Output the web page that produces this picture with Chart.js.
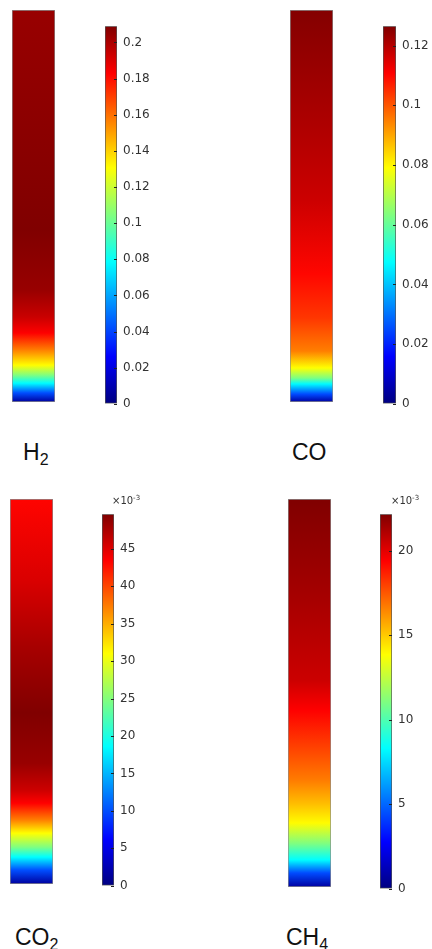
<!DOCTYPE html>
<html>
<head>
<meta charset="utf-8">
<script src="https://cdn.jsdelivr.net/npm/chart.js@4.4.0/dist/chart.umd.min.js"></script>
<style>
body { margin: 0; background: #fff; width: 432px; height: 949px; position: relative; overflow: hidden; }
canvas, .lbl, .exp { position: absolute; }
.lbl { font-family: "Liberation Sans", Arial, sans-serif; font-size: 23px; line-height: 23px; color: #111; white-space: nowrap; }
.lbl span { font-size: 16px; position: relative; top: 5px; }
.exp { font-family: "DejaVu Sans", sans-serif; font-size: 10px; line-height: 10px; color: #333; white-space: nowrap; }
.exp span { font-size: 7px; position: relative; top: -4px; }
</style>
</head>
<body>
<canvas id="h2Col" width="43" height="392" style="left:12px;top:10px"></canvas>
<canvas id="h2Bar" width="57" height="404" style="left:105px;top:13px"></canvas>
<canvas id="coCol" width="43" height="392" style="left:290px;top:10px"></canvas>
<canvas id="coBar" width="58" height="404" style="left:383px;top:13px"></canvas>
<canvas id="co2Col" width="43" height="385" style="left:10px;top:499px"></canvas>
<canvas id="co2Bar" width="57" height="398" style="left:102px;top:501px"></canvas>
<canvas id="ch4Col" width="43" height="388" style="left:288px;top:499px"></canvas>
<canvas id="ch4Bar" width="57" height="401" style="left:380px;top:501px"></canvas>

<div class="lbl" style="left:23px;top:441px">H<span>2</span></div>
<div class="lbl" style="left:292px;top:441px">CO</div>
<div class="lbl" style="left:15px;top:926px">CO<span>2</span></div>
<div class="lbl" style="left:286px;top:926px">CH<span>4</span></div>
<div class="exp" style="left:112px;top:496px">×10<span>-3</span></div>
<div class="exp" style="left:391px;top:496px">×10<span>-3</span></div>

<script>
// relative height along the column, 0 = bottom, 1 = top
const h2Height = [0, 0.023, 0.048, 0.069, 0.094, 0.133, 0.176, 0.217, 0.286, 0.44, 0.64, 1];
const h2Frac   = [0.006, 0.042, 0.078, 0.105, 0.131, 0.157, 0.183, 0.194, 0.204, 0.209, 0.207, 0.204];
const h2Max = 0.209;
const h2Ticks = [0, 0.02, 0.04, 0.06, 0.08, 0.1, 0.12, 0.14, 0.16, 0.18, 0.2];

const coHeight = [0, 0.02, 0.046, 0.061, 0.087, 0.13, 0.215, 0.327, 0.514, 0.72, 1];
const coFrac   = [0.004, 0.025, 0.047, 0.063, 0.079, 0.095, 0.104, 0.110, 0.117, 0.121, 0.126];
const coMax = 0.1265;
const coTicks = [0, 0.02, 0.04, 0.06, 0.08, 0.1, 0.12];

// CO2 and CH4 in units of 1e-3
const co2Height = [0, 0.036, 0.07, 0.096, 0.132, 0.166, 0.21, 0.244, 0.314, 0.444, 0.616, 0.79, 1];
const co2Frac   = [1.5, 10, 18.6, 24.8, 31, 37.2, 43.4, 45.9, 48.4, 49.6, 47.7, 45.2, 43.2];
const co2Max = 49.6;
const co2Ticks = [0, 5, 10, 15, 20, 25, 30, 35, 40, 45];

const ch4Height = [0, 0.036, 0.07, 0.113, 0.165, 0.216, 0.276, 0.361, 0.456, 0.534, 0.74, 1];
const ch4Frac   = [0.7, 4.4, 8.3, 11.1, 13.9, 15.3, 16.7, 18.0, 19.4, 20.5, 21.3, 22.2];
const ch4Max = 22.15;
const ch4Ticks = [0, 5, 10, 15, 20];

// jet colormap
function jet(t) {
  t = Math.max(0, Math.min(1, t));
  const c = x => Math.round(255 * Math.max(0, Math.min(1, 1.5 - Math.abs(4 * t - x))));
  return 'rgb(' + c(3) + ',' + c(2) + ',' + c(1) + ')';
}
const jetStops = [0, 0.125, 0.375, 0.625, 0.875, 1];

const baseOpts = {
  responsive: false,
  animation: false,
  events: [],
  plugins: { legend: { display: false }, tooltip: { enabled: false } }
};

function columnChart(id, heights, values, vmax) {
  new Chart(document.getElementById(id), {
    type: 'bar',
    data: {
      labels: [''],
      datasets: [{
        data: [[heights[0], heights[heights.length - 1]]],
        backgroundColor: c => {
          const ch = c.chart;
          if (!ch.chartArea) return '#fff';
          const y = ch.scales.y, top = ch.chartArea.top, bot = ch.chartArea.bottom;
          const g = ch.ctx.createLinearGradient(0, top, 0, bot);
          heights.forEach((hh, i) => {
            g.addColorStop((y.getPixelForValue(hh) - top) / (bot - top), jet(values[i] / vmax));
          });
          return g;
        },
        borderColor: '#8c8c8c',
        borderWidth: 1,
        borderSkipped: false,
        barPercentage: 1,
        categoryPercentage: 1
      }]
    },
    options: Object.assign({}, baseOpts, {
      layout: { padding: 0 },
      scales: { x: { display: false }, y: { display: false, min: 0, max: 1 } }
    })
  });
}

const tickMarks = {
  id: 'tickMarks',
  afterDatasetsDraw(chart) {
    const y = chart.scales.y, r = chart.chartArea.right, ctx = chart.ctx;
    ctx.save();
    ctx.strokeStyle = '#222';
    ctx.lineWidth = 1;
    y.ticks.forEach(t => {
      const py = Math.round(y.getPixelForValue(t.value)) + 0.5;
      ctx.beginPath();
      ctx.moveTo(r - 3, py);
      ctx.lineTo(r, py);
      ctx.stroke();
    });
    ctx.restore();
  }
};

function colorbar(id, vmax, ticks) {
  new Chart(document.getElementById(id), {
    type: 'bar',
    data: {
      labels: [''],
      datasets: [{
        data: [[0, vmax]],
        backgroundColor: c => {
          const ch = c.chart;
          if (!ch.chartArea) return '#fff';
          const y = ch.scales.y;
          const g = ch.ctx.createLinearGradient(0, y.getPixelForValue(0), 0, y.getPixelForValue(vmax));
          jetStops.forEach(s => g.addColorStop(s, jet(s)));
          return g;
        },
        borderColor: '#555',
        borderWidth: 1,
        borderSkipped: false,
        barPercentage: 1,
        categoryPercentage: 1
      }]
    },
    options: Object.assign({}, baseOpts, {
      layout: { padding: { top: 12, bottom: 12, left: 0, right: 0 } },
      scales: {
        x: { display: false },
        y: {
          position: 'right',
          min: 0,
          max: vmax,
          afterBuildTicks: s => { s.ticks = ticks.map(v => ({ value: v })); },
          afterFit: s => { s.width = 45; },
          grid: { drawOnChartArea: false, drawTicks: false },
          border: { display: false },
          ticks: {
            padding: 6,
            color: '#333',
            font: { family: 'DejaVu Sans', size: 12 },
            callback: v => String(Number(v.toFixed(6)))
          }
        }
      }
    }),
    plugins: [tickMarks]
  });
}

columnChart('h2Col', h2Height, h2Frac, h2Max);
colorbar('h2Bar', h2Max, h2Ticks);
columnChart('coCol', coHeight, coFrac, coMax);
colorbar('coBar', coMax, coTicks);
columnChart('co2Col', co2Height, co2Frac, co2Max);
colorbar('co2Bar', co2Max, co2Ticks);
columnChart('ch4Col', ch4Height, ch4Frac, ch4Max);
colorbar('ch4Bar', ch4Max, ch4Ticks);
</script>
</body>
</html>
